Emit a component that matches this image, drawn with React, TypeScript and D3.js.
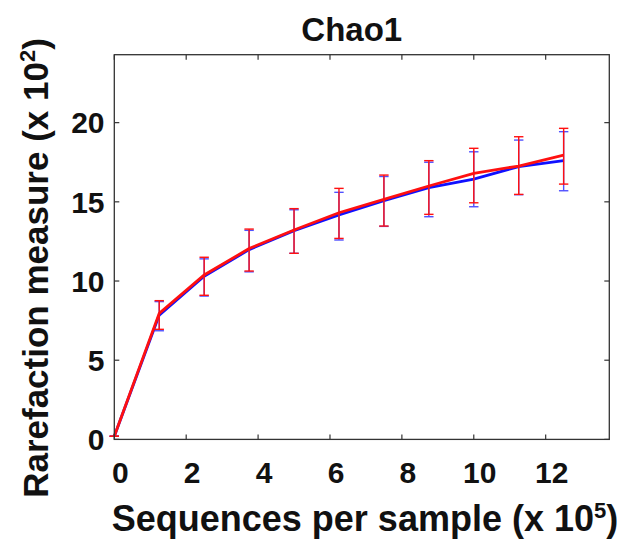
import React from "react";
import * as d3 from "d3";

const W = 617;
const H = 539;

const xValues = [0, 1.25, 2.5, 3.75, 5, 6.25, 7.5, 8.75, 10, 11.25, 12.5];
const redMean = [0.2, 7.96, 10.38, 12.05, 13.22, 14.31, 15.16, 16.0, 16.8, 17.26, 17.95];
const redUpper = [0.2, 8.76, 11.5, 13.28, 14.57, 15.85, 16.69, 17.6, 18.38, 19.11, 19.64];
const redLower = [0.2, 6.95, 9.1, 10.63, 11.75, 12.69, 13.47, 14.21, 14.94, 15.47, 16.12];
const blueMean = [0.2, 7.85, 10.3, 11.98, 13.18, 14.17, 15.07, 15.89, 16.44, 17.22, 17.6];
const blueUpper = [0.2, 8.7, 11.4, 13.2, 14.5, 15.6, 16.6, 17.5, 18.16, 18.9, 19.43];
const blueLower = [0.2, 6.86, 9.05, 10.58, 11.75, 12.59, 13.45, 14.06, 14.69, 15.45, 15.7];

const xTicks = [0, 2, 4, 6, 8, 10, 12];
const yTicks = [0, 5, 10, 15, 20];

const title = "Chao1";

export default function App() {
  const left = 114.3;
  const right = 609.3;
  const top = 54.7;
  const bottom = 439.4;

  const x = d3.scaleLinear().domain([0, 13.77]).range([left, right]);
  const y = d3.scaleLinear().domain([0, 24.29]).range([bottom, top]);

  const line = (vals: number[]) =>
    d3
      .line<number>()
      .x((_, i) => x(xValues[i]))
      .y((d) => y(d))(vals) as string;

  const font = "'Liberation Sans', Arial, Helvetica, sans-serif";
  const tickLen = 5;
  const cap = 4.7;

  const errorBars = (upper: number[], lower: number[], color: string, key: string) =>
    xValues.map((xv, i) => {
      const cx = x(xv);
      return (
        <g key={key + i} stroke={color} strokeWidth={1.4} fill="none">
          <line x1={cx} x2={cx} y1={y(upper[i])} y2={y(lower[i])} />
          <line x1={cx - cap} x2={cx + cap} y1={y(upper[i])} y2={y(upper[i])} />
          <line x1={cx - cap} x2={cx + cap} y1={y(lower[i])} y2={y(lower[i])} />
        </g>
      );
    });

  return (
    <svg
      width={W}
      height={H}
      style={{ position: "absolute", left: 0, top: 0, background: "#fff" }}
    >
      <rect x={0} y={0} width={W} height={H} fill="#fff" />
      {/* series */}
      <path d={line(blueMean)} stroke="#1010ff" strokeWidth={2.8} fill="none" />
      {errorBars(blueUpper, blueLower, "#5050ff", "b")}
      {errorBars(redUpper, redLower, "#ff1010", "r")}
      <path d={line(redMean)} stroke="#ff1010" strokeWidth={2.8} fill="none" />

      {/* axes box */}
      <rect
        x={left}
        y={top}
        width={right - left}
        height={bottom - top}
        fill="none"
        stroke="#333"
        strokeWidth={1.3}
      />
      {xTicks.map((t) => (
        <g key={"xt" + t} stroke="#333" strokeWidth={1.2}>
          <line x1={x(t)} x2={x(t)} y1={bottom} y2={bottom - tickLen} />
          <line x1={x(t)} x2={x(t)} y1={top} y2={top + tickLen} />
        </g>
      ))}
      {yTicks.map((t) => (
        <g key={"yt" + t} stroke="#333" strokeWidth={1.2}>
          <line x1={left} x2={left + tickLen} y1={y(t)} y2={y(t)} />
          <line x1={right} x2={right - tickLen} y1={y(t)} y2={y(t)} />
        </g>
      ))}

      {/* tick labels */}
      {xTicks.map((t) => (
        <text
          key={"xl" + t}
          x={x(t) + 6}
          y={482.7}
          textAnchor="middle"
          fontFamily={font}
          fontWeight="bold"
          fontSize={30}
          fill="#111"
        >
          {t}
        </text>
      ))}
      {yTicks.map((t) => (
        <text
          key={"yl" + t}
          x={104.5}
          y={y(t)}
          dy="0.36em"
          textAnchor="end"
          fontFamily={font}
          fontWeight="bold"
          fontSize={30}
          fill="#111"
        >
          {t}
        </text>
      ))}

      {/* title */}
      <text
        x={(left + right) / 2 - 10}
        y={41}
        textAnchor="middle"
        fontFamily={font}
        fontWeight="bold"
        fontSize={33}
        fill="#111"
      >
        {title}
      </text>

      {/* x label */}
      <text
        x={365}
        y={530.5}
        textAnchor="middle"
        fontFamily={font}
        fontWeight="bold"
        fontSize={36}
        fill="#111"
      >
        Sequences per sample (x 10
        <tspan fontSize={22} dy={-13}>
          5
        </tspan>
        <tspan dy={13}>)</tspan>
      </text>

      {/* y label */}
      <text
        transform={`translate(48,268) rotate(-90)`}
        textAnchor="middle"
        fontFamily={font}
        fontWeight="bold"
        fontSize={35}
        fill="#111"
      >
        Rarefaction measure (x 10
        <tspan fontSize={22} dy={-13}>
          2
        </tspan>
        <tspan dy={13}>)</tspan>
      </text>
    </svg>
  );
}
